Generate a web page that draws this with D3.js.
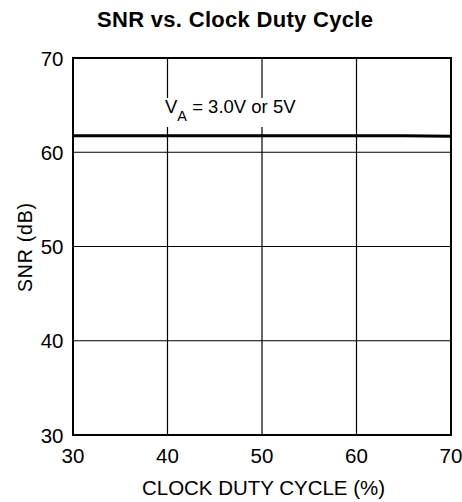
<!DOCTYPE html>
<html><head><meta charset="utf-8">
<script src="https://cdn.jsdelivr.net/npm/d3@7"></script>
<style>body{margin:0;background:#fff}svg{display:block;font-family:"Liberation Sans",Arial,sans-serif}</style>
</head><body><svg id="c" width="462" height="502"></svg>
<script>
const dutyCycle = [30, 35, 40, 45, 50, 55, 60, 65, 70];
const snr = [61.75, 61.75, 61.75, 61.75, 61.75, 61.75, 61.75, 61.75, 61.7];
const xTicks = [30, 40, 50, 60, 70];
const yTicks = [30, 40, 50, 60, 70];

const svg = d3.select("#c");
const m = {l:73, r:451, t:58, b:435};
const x = d3.scaleLinear().domain([30,70]).range([m.l, m.r]);
const y = d3.scaleLinear().domain([30,70]).range([m.b, m.t]);

// grid
svg.append("g").selectAll("line").data(xTicks.slice(1,-1)).join("line")
  .attr("x1", d=>x(d)).attr("x2", d=>x(d)).attr("y1", m.t).attr("y2", m.b)
  .attr("stroke","#000").attr("stroke-width",1.2);
svg.append("g").selectAll("line").data(yTicks.slice(1,-1)).join("line")
  .attr("y1", d=>y(d)).attr("y2", d=>y(d)).attr("x1", m.l).attr("x2", m.r)
  .attr("stroke","#000").attr("stroke-width",1.2);

// annotation background knock-out
svg.append("rect").attr("x", 160).attr("y", 98).attr("width", 158).attr("height", 29).attr("fill","#fff");

// frame
svg.append("rect").attr("x", m.l).attr("y", m.t).attr("width", m.r-m.l).attr("height", m.b-m.t)
  .attr("fill","none").attr("stroke","#000").attr("stroke-width",2);

// data line
svg.append("path").datum(dutyCycle.map((d,i)=>[d,snr[i]]))
  .attr("d", d3.line().x(d=>x(d[0])).y(d=>y(d[1])))
  .attr("fill","none").attr("stroke","#000").attr("stroke-width",3.2);

// tick labels
svg.append("g").selectAll("text").data(xTicks).join("text")
  .attr("x", d=>x(d)).attr("y", 462.5).attr("text-anchor","middle")
  .attr("font-size",20.5).text(d=>d);
svg.append("g").selectAll("text").data(yTicks).join("text")
  .attr("x", 63.5).attr("y", d=>y(d)+7.5).attr("text-anchor","end")
  .attr("font-size",20.5).text(d=>d);

// title
svg.append("text").attr("x", 97).attr("y", 27)
  .attr("font-size",22).attr("font-weight","bold")
  .attr("textLength",276).attr("lengthAdjust","spacing").text("SNR vs. Clock Duty Cycle");

// axis labels
svg.append("text").attr("x", 142).attr("y", 495)
  .attr("font-size",20.5).attr("textLength",243).attr("lengthAdjust","spacing")
  .text("CLOCK DUTY CYCLE (%)");
svg.append("text").attr("transform","translate(32,292) rotate(-90)")
  .attr("font-size",19.5).attr("textLength",89).attr("lengthAdjust","spacing")
  .text("SNR (dB)");

// annotation
const ann = svg.append("text").attr("x", 165).attr("y", 113).attr("font-size",18.5);
ann.append("tspan").text("V");
ann.append("tspan").attr("font-size",14.5).attr("dy",8).text("A");
ann.append("tspan").attr("dy",-8).text(" = 3.0V or 5V");
</script></body></html>
